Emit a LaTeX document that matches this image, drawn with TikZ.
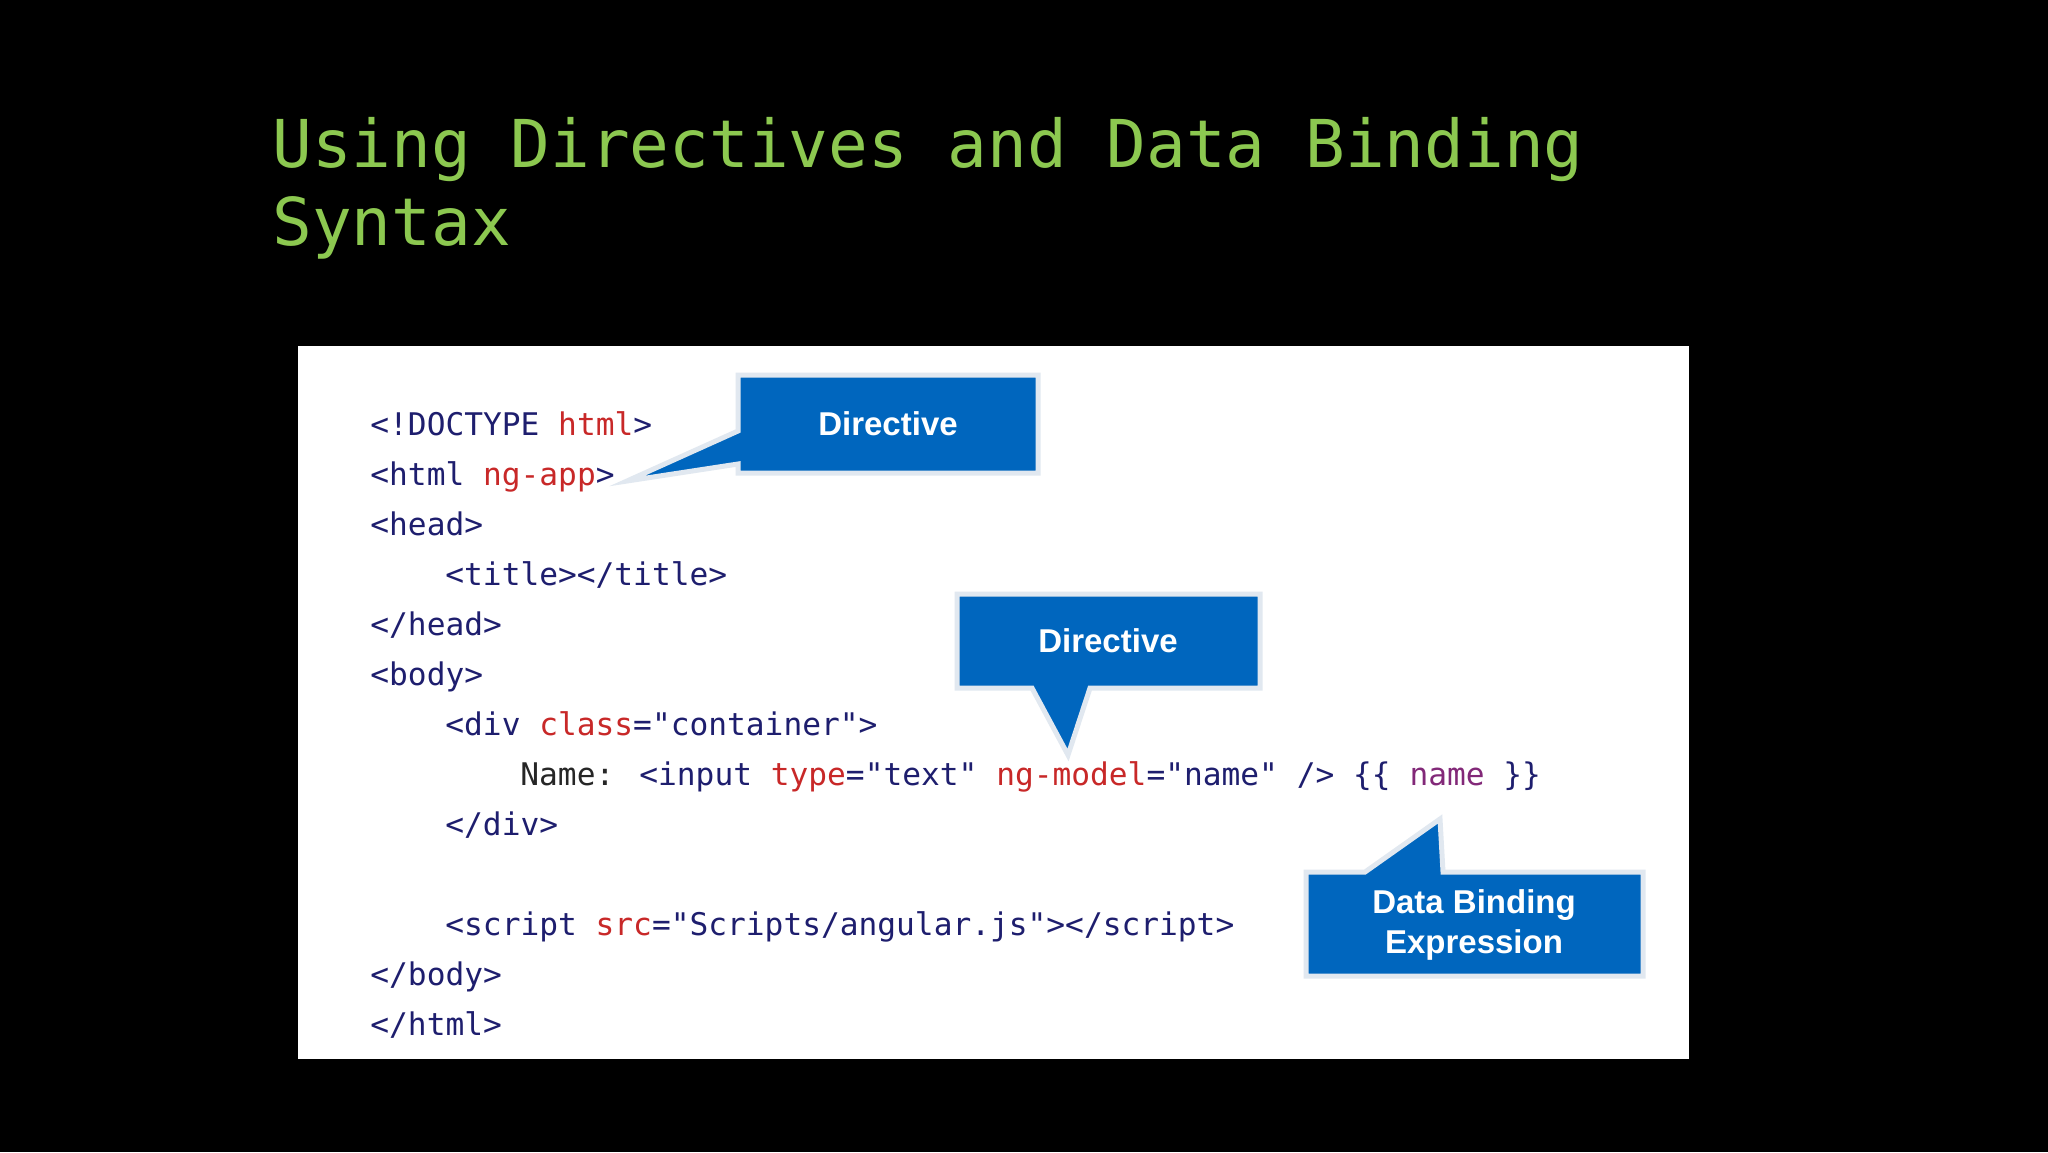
\documentclass[tikz,border=0pt]{standalone}
\usepackage{fontspec}
\setmainfont{Liberation Sans}
\newfontfamily\codefont{DejaVu Sans Mono}
\definecolor{ttl}{RGB}{140,200,80}
\definecolor{tg}{RGB}{30,30,110}
\definecolor{at}{RGB}{200,40,40}
\definecolor{pu}{RGB}{130,40,120}
\definecolor{cb}{RGB}{0,102,190}
\definecolor{cbd}{RGB}{225,232,240}
\tikzset{
  code/.style={anchor=base west,inner sep=0pt,font=\codefont\fontsize{15.6pt}{18pt}\selectfont,text=tg},
  callout/.style={fill=cb,draw=cbd,line width=2.5pt,line join=miter},
  ctext/.style={text=white,font=\bfseries\fontsize{16.5pt}{20pt}\selectfont,align=center,inner sep=0pt}
}
\newcommand{\A}[1]{\textcolor{at}{#1}}
\begin{document}
\begin{tikzpicture}[x=0.5pt,y=-0.5pt]
\fill[black] (0,0) rectangle (2048,1152);
\useasboundingbox (0,0) rectangle (2048,1152);
\node[anchor=base west,inner sep=0pt,text=ttl,font=\codefont\fontsize{33pt}{40pt}\selectfont] (t1) at (272,167) {Using Directives and Data Binding};
\node[anchor=base west,inner sep=0pt,text=ttl,font=\codefont\fontsize{33pt}{40pt}\selectfont] (t2) at (272,245) {Syntax};
\fill[white] (298,346) rectangle (1689,1059);
% code
\node[code] (l1) at (370,435) {<!DOCTYPE \A{html}>};
\node[code] (l2) at (370,485) {<html \A{ng-app}>};
\node[code] (l3) at (370,535) {<head>};
\node[code] (l4) at (445,585) {<title></title>};
\node[code] (l5) at (370,635) {</head>};
\node[code] (l6) at (370,685) {<body>};
\node[code] (l7) at (445,735) {<div \A{class}="container">};
\node[code] (l8) at (520,785) {\textcolor{black!85}{Name:} <input \A{type}="text" \A{ng-model}="name" /> \{\{ \textcolor{pu}{name} \}\}};
\node[code] (l9) at (445,835) {</div>};
\node[code] (l10) at (445,935) {<script \A{src}="Scripts/angular.js"></script>};
\node[code] (l11) at (370,985) {</body>};
\node[code] (l12) at (370,1035) {</html>};
% callouts
\draw[callout] (738,375) -- (1038,375) -- (1038,473) -- (738,473) -- (738,464) -- (627,481) -- (738,431) -- cycle;
\node[ctext] (d1) at (888,424) {Directive};
\draw[callout] (957,594) -- (1260,594) -- (1260,688) -- (1090,688) -- (1068,755) -- (1032,688) -- (957,688) -- cycle;
\node[ctext] (d2) at (1108,641) {Directive};
\draw[callout] (1306,872) -- (1365,872) -- (1440,819) -- (1443,872) -- (1643,872) -- (1643,976) -- (1306,976) -- cycle;
\node[ctext] (d3) at (1474,925) {Data Binding\\Expression};
\end{tikzpicture}
\end{document}
